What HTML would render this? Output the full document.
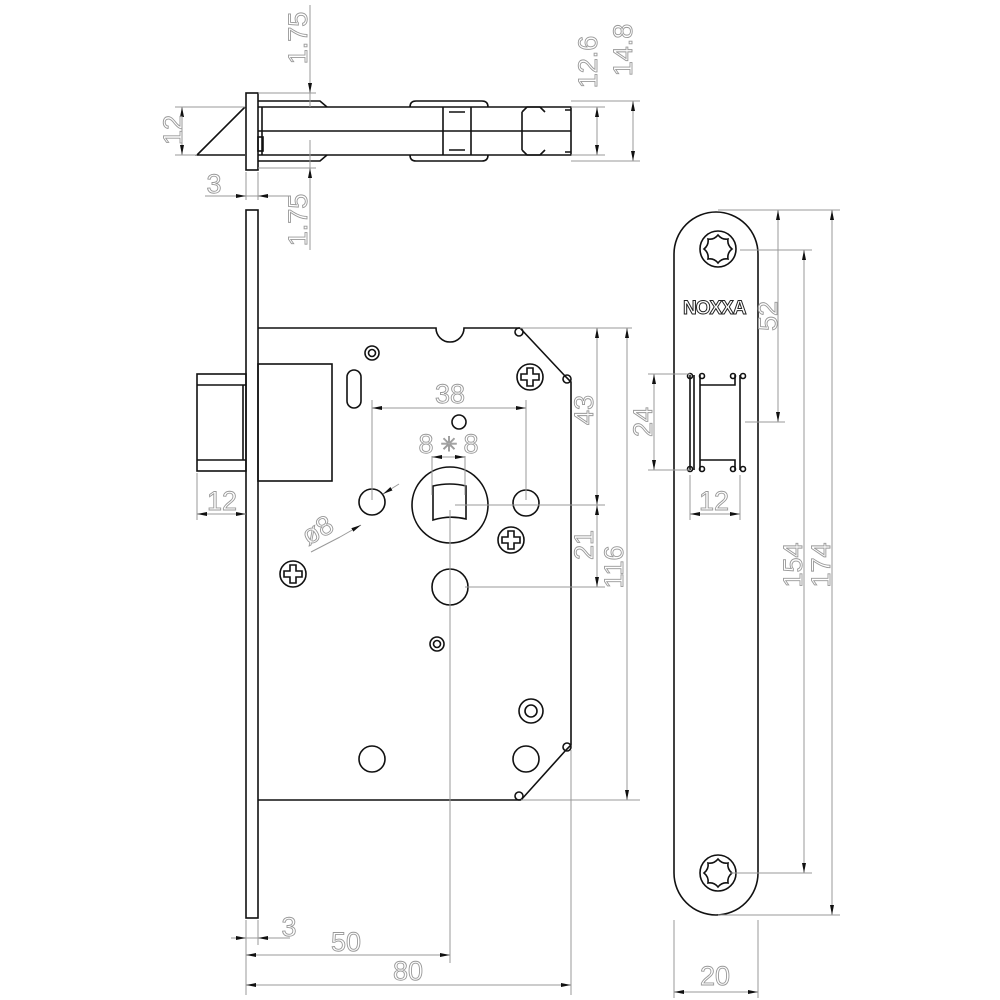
<!DOCTYPE html>
<html><head><meta charset="utf-8"><style>
html,body{margin:0;padding:0;background:#fff;}
svg{display:block;}
.k{stroke:#111;stroke-width:1.6;fill:none;}
.g{stroke:#999;stroke-width:1;fill:none;}
.t{font-family:"Liberation Sans",sans-serif;font-size:27px;fill:none;stroke:#999;stroke-width:0.9;text-anchor:middle;}
</style></head><body>
<svg width="1000" height="1000" viewBox="0 0 1000 1000" xmlns="http://www.w3.org/2000/svg">
<defs>
<marker id="a" viewBox="0 0 10 4" refX="10" refY="2" markerWidth="10" markerHeight="4" orient="auto-start-reverse" markerUnits="userSpaceOnUse"><path d="M0,0L10,2L0,4z" fill="#111"/></marker>
<g id="ph"><circle class="k" cx="0" cy="0" r="13"/><path class="k" d="M-3,-9 L3,-9 L3,-3 L9,-3 L9,3 L3,3 L3,9 L-3,9 L-3,3 L-9,3 L-9,-3 L-3,-3 Z"/></g>
<g id="tx"><circle class="k" cx="0" cy="0" r="18"/>
<path class="k" d="M0,-14 Q4,-9 10,-10 Q9,-4 14,0 Q9,4 10,10 Q4,9 0,14 Q-4,9 -10,10 Q-9,4 -14,0 Q-9,-4 -10,-10 Q-4,-9 0,-14 Z"/></g>
</defs>
<!-- TOP VIEW -->
<rect class="k" x="246" y="93" width="12" height="77"/>
<path class="k" d="M245,107 L197,155 L245,155"/>
<path class="k" d="M258,101 L320,101 L327,107 M258,161 L320,161 L327,155"/>
<path class="k" d="M258,107 L571,107 L571,155 L258,155 M258,131 L571,131 M262,107 L262,155"/>
<rect class="k" x="258" y="137" width="5" height="14"/>
<path class="k" d="M410,107 Q410,101 416,101 L482,101 Q488,101 488,107 M410,155 Q410,161 416,161 L482,161 Q488,161 488,155"/>
<path class="k" d="M443,107 L443,155 M471,107 L471,155 M449,112 L465,112 M449,150 L465,150"/>
<path class="k" d="M522,112 L527,107 L540,107 L545,112 M522,150 L527,155 L540,155 L545,150 M522,112 L522,150 M565,110 L571,110 M565,152 L571,152"/>
<path class="g" d="M175,107 L245,107 M175,155 L197,155 M258,93 L316,93 M258,168 L316,168 M310,5 L310,107 M310,140 L310,250 M571,101 L640,101 M571,107 L605,107 M571,155 L605,155 M571,161 L640,161 M597,107 L597,155 M633,101 L633,161 M182,107 L182,155 M246,172 L246,200 M258,172 L258,200 M205,196 L290,196"/>
<line class="g" x1="310" y1="75" x2="310" y2="93" marker-end="url(#a)"/>
<line class="g" x1="310" y1="188" x2="310" y2="168" marker-end="url(#a)"/>
<line class="g" x1="597" y1="107" x2="597" y2="155" marker-start="url(#a)" marker-end="url(#a)"/>
<line class="g" x1="633" y1="101" x2="633" y2="161" marker-start="url(#a)" marker-end="url(#a)"/>
<line class="g" x1="182" y1="107" x2="182" y2="155" marker-start="url(#a)" marker-end="url(#a)"/>
<line class="g" x1="232" y1="196" x2="246" y2="196" marker-end="url(#a)"/>
<line class="g" x1="272" y1="196" x2="258" y2="196" marker-end="url(#a)"/>
<text class="t" transform="translate(307,38) rotate(-90)">1.75</text>
<text class="t" transform="translate(307,220) rotate(-90)">1.75</text>
<text class="t" transform="translate(597,62) rotate(-90)">12.6</text>
<text class="t" transform="translate(632,50) rotate(-90)">14.8</text>
<text class="t" transform="translate(182,130) rotate(-90)">12</text>
<text class="t" x="214" y="193">3</text>

<!-- FRONT VIEW -->
<rect class="k" x="246" y="210" width="12" height="708"/>
<rect class="k" x="197" y="374" width="49" height="97"/>
<path class="k" d="M197,385 L246,385 M197,460 L246,460 M243,385 L243,460"/>
<rect class="k" x="258" y="364" width="74" height="117"/>
<path class="k" d="M258,328 L436,328 A14,14 0 0 0 464,328 L520,328 L565,376 L571,382 L571,745 L566,750 L521,800 L258,800"/>
<circle class="k" cx="519" cy="332" r="4"/><circle class="k" cx="567" cy="379" r="4"/>
<circle class="k" cx="567" cy="747" r="4"/><circle class="k" cx="519" cy="796" r="4"/>
<circle class="k" cx="450" cy="505" r="38"/>
<path class="k" d="M433,486 Q450,482 466,486 L466,519 Q450,515 433,520 Z"/>
<circle class="k" cx="372" cy="502" r="13"/>
<circle class="k" cx="526" cy="503" r="13"/>
<circle class="k" cx="450" cy="587" r="18"/>
<circle class="k" cx="459" cy="422" r="7"/>
<circle class="k" cx="372" cy="353" r="7"/><circle class="k" cx="372" cy="353" r="3.5"/>
<circle class="k" cx="437" cy="644" r="7"/><circle class="k" cx="437" cy="644" r="3.5"/>
<circle class="k" cx="531" cy="711" r="12"/><circle class="k" cx="531" cy="711" r="6"/>
<circle class="k" cx="372" cy="759" r="13"/>
<circle class="k" cx="526" cy="759" r="13"/>
<rect class="k" x="347" y="370" width="14" height="38" rx="7"/>
<use href="#ph" x="530" y="377"/>
<use href="#ph" x="511" y="540"/>
<use href="#ph" x="293" y="574"/>
<!-- dims front -->
<path class="g" d="M372,400 L372,500 M526,400 L526,500 M432,456 L432,495 M465,456 L465,495 M455,505 L605,505 M450,510 L450,963 M465,587 L605,587 M520,328 L632,328 M521,800 L640,800 M197,473 L197,520 M571,750 L571,995 M246,920 L246,995 M258,920 L258,945 M231,938 L290,938 M311,552 L340,537"/>
<line class="g" x1="372" y1="408" x2="526" y2="408" marker-start="url(#a)" marker-end="url(#a)"/>
<line class="g" x1="432" y1="457" x2="465" y2="457" marker-start="url(#a)" marker-end="url(#a)"/>
<line class="g" x1="597" y1="328" x2="597" y2="505" marker-start="url(#a)" marker-end="url(#a)"/>
<line class="g" x1="597" y1="505" x2="597" y2="587" marker-start="url(#a)" marker-end="url(#a)"/>
<line class="g" x1="627" y1="328" x2="627" y2="800" marker-start="url(#a)" marker-end="url(#a)"/>
<line class="g" x1="197" y1="514" x2="246" y2="514" marker-start="url(#a)" marker-end="url(#a)"/>
<line class="g" x1="340" y1="537" x2="361" y2="525" marker-end="url(#a)"/>
<line class="g" x1="399" y1="484" x2="383" y2="494" marker-end="url(#a)"/>
<line class="g" x1="246" y1="955" x2="450" y2="955" marker-start="url(#a)" marker-end="url(#a)"/>
<line class="g" x1="246" y1="985" x2="571" y2="985" marker-start="url(#a)" marker-end="url(#a)"/>
<line class="g" x1="231" y1="938" x2="246" y2="938" marker-end="url(#a)"/>
<line class="g" x1="272" y1="938" x2="258" y2="938" marker-end="url(#a)"/>
<text class="t" x="450" y="403">38</text>
<text class="t" x="426" y="453">8</text><text class="t" x="449" y="451" style="font-size:20px">✳</text><text class="t" x="471" y="453">8</text>
<text class="t" transform="translate(593,410) rotate(-90)">43</text>
<text class="t" transform="translate(593,545) rotate(-90)">21</text>
<text class="t" transform="translate(623,567) rotate(-90)">116</text>
<text class="t" x="222" y="510">12</text>
<text class="t" transform="translate(322,538) rotate(-30)">ø8</text>
<text class="t" x="289" y="936">3</text>
<text class="t" x="346" y="951">50</text>
<text class="t" x="408" y="980">80</text>

<!-- STRIKE PLATE -->
<path class="k" d="M674,254 A42,42 0 0 1 758,254 L758,873 A42,42 0 0 1 674,873 Z"/>
<use href="#tx" x="718" y="249"/>
<use href="#tx" x="718" y="873"/>
<text x="683" y="314" style="font-family:'Liberation Sans',sans-serif;font-size:19px;font-weight:bold;fill:#fff;stroke:#222;stroke-width:1;letter-spacing:-1px">NOXXA</text>
<path class="k" d="M690,375 L690,470 M694,375 L694,470 M700,375 L700,470 M700,385 L735,385 L735,375 M700,460 L735,460 L735,470 M740,375 L740,470"/>
<circle class="k" cx="690" cy="376" r="2.5"/><circle class="k" cx="702" cy="376" r="2.5"/><circle class="k" cx="733" cy="376" r="2.5"/><circle class="k" cx="743" cy="376" r="2.5"/>
<circle class="k" cx="690" cy="469" r="2.5"/><circle class="k" cx="702" cy="469" r="2.5"/><circle class="k" cx="733" cy="469" r="2.5"/><circle class="k" cx="743" cy="469" r="2.5"/>
<path class="g" d="M648,374 L690,374 M648,470 L690,470 M690,475 L690,520 M740,475 L740,520 M718,210 L840,210 M740,250 L812,250 M745,422 L785,422 M730,873 L812,873 M718,915 L840,915 M674,920 L674,998 M758,920 L758,998"/>
<line class="g" x1="654" y1="374" x2="654" y2="470" marker-start="url(#a)" marker-end="url(#a)"/>
<line class="g" x1="690" y1="514" x2="740" y2="514" marker-start="url(#a)" marker-end="url(#a)"/>
<line class="g" x1="778" y1="210" x2="778" y2="422" marker-start="url(#a)" marker-end="url(#a)"/>
<line class="g" x1="804" y1="250" x2="804" y2="873" marker-start="url(#a)" marker-end="url(#a)"/>
<line class="g" x1="832" y1="210" x2="832" y2="915" marker-start="url(#a)" marker-end="url(#a)"/>
<line class="g" x1="674" y1="992" x2="758" y2="992" marker-start="url(#a)" marker-end="url(#a)"/>
<text class="t" transform="translate(652,422) rotate(-90)">24</text>
<text class="t" x="714" y="510">12</text>
<text class="t" transform="translate(777,316) rotate(-90)">52</text>
<text class="t" transform="translate(802,565) rotate(-90)">154</text>
<text class="t" transform="translate(830,565) rotate(-90)">174</text>
<text class="t" x="715" y="985">20</text>
</svg>
</body></html>
